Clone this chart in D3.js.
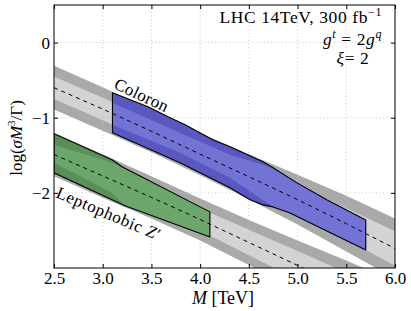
<!DOCTYPE html>
<html><head><meta charset="utf-8">
<script src="https://cdn.jsdelivr.net/npm/d3@7"></script>
<style>body{margin:0;background:#fff} text{font-family:"Liberation Serif","Times New Roman",serif;fill:#000}</style>
</head><body><svg id="c" width="411" height="311"></svg>
<script>
// ---- data ----
const massGrid = [2.5, 3.0, 3.5, 4.0, 4.5, 5.0, 5.5, 6.0];
const coloronCentral = [-0.60, -0.885, -1.18, -1.485, -1.785, -2.09, -2.41, -2.74];
const leptoCentral   = [-1.49, -1.775, -2.06, -2.355, -2.66, -2.965, -3.27, -3.58];
const grayOuterHalf  = [0.29, 0.29, 0.28, 0.28, 0.30, 0.33, 0.37, 0.40];
const grayInnerHalf  = [0.15, 0.15, 0.15, 0.15, 0.17, 0.19, 0.21, 0.23];

const coloronOuterTopM = [3.1, 3.465, 3.67, 3.845, 4.13, 4.306, 4.645, 4.748, 4.994, 5.30, 5.7];
const coloronOuterTop  = [-0.667, -0.853, -0.987, -1.093, -1.293, -1.387, -1.587, -1.667, -1.867, -2.093, -2.36];
const coloronOuterBotM = [3.1, 3.793, 4.306, 4.512, 4.645, 4.748, 4.922, 5.7];
const coloronOuterBot  = [-1.2, -1.6, -1.933, -2.093, -2.16, -2.187, -2.267, -2.76];
const coloronInnerTopM = [3.1, 3.793, 4.306, 4.748, 4.994, 5.30, 5.7];
const coloronInnerTop  = [-0.8, -1.2, -1.493, -1.667, -1.867, -2.093, -2.36];
const coloronInnerBotM = [3.1, 3.793, 4.306, 4.748, 4.922, 5.7];
const coloronInnerBot  = [-1.093, -1.467, -1.8, -2.187, -2.267, -2.76];

const leptoOuterTopM = [2.5, 3.095, 3.198, 4.1];
const leptoOuterTop  = [-1.213, -1.56, -1.653, -2.253];
const leptoOuterBotM = [2.5, 3.095, 3.229, 4.1];
const leptoOuterBot  = [-1.733, -2.093, -2.173, -2.587];
const leptoInnerTopM = [2.5, 3.095, 3.198, 4.1];
const leptoInnerTop  = [-1.36, -1.6, -1.653, -2.253];
const leptoInnerBotM = [2.5, 3.095, 3.229, 4.1];
const leptoInnerBot  = [-1.6, -2.0, -2.173, -2.587];

const xTicks = [2.5, 3.0, 3.5, 4.0, 4.5, 5.0, 5.5, 6.0];
const yTicks = [0, -1, -2];

// ---- layout ----
const svg = d3.select("#c");
const FONT = "Liberation Serif, Times New Roman, serif";
const L = 54, R = 395, T = 5, B = 268;
const x = d3.scaleLinear().domain([2.5, 6.0]).range([L, R]);
const y = d3.scaleLinear().domain([-3, 0.5]).range([B, T]);

svg.append("defs").append("clipPath").attr("id", "clip")
  .append("rect").attr("x", L).attr("y", T).attr("width", R - L).attr("height", B - T);
const plot = svg.append("g").attr("clip-path", "url(#clip)");

const zip = (ms, vs) => ms.map((m, i) => [m, vs[i]]);
const poly = (topM, top, botM, bot) => zip(topM, top).concat(zip(botM, bot).reverse());
const line = d3.line().x(d => x(d[0])).y(d => y(d[1]));
const area = d3.area().x(d => x(d[0])).y0(d => y(d[1])).y1(d => y(d[2]));

function grayBand(central, half, color) {
  const d = massGrid.map((m, i) => [m, central[i] - half[i], central[i] + half[i]]);
  plot.append("path").attr("d", area(d)).attr("fill", color).attr("stroke", "none");
}
grayBand(coloronCentral, grayOuterHalf, "#a9a9a9");
grayBand(coloronCentral, grayInnerHalf, "#d3d3d3");
grayBand(leptoCentral, grayOuterHalf, "#a9a9a9");
grayBand(leptoCentral, grayInnerHalf, "#d3d3d3");

// grid
const grid = plot.append("g").attr("stroke", "#bdbdbd").attr("stroke-width", 0.8).attr("stroke-dasharray", "1,2.5");
xTicks.forEach(t => grid.append("line").attr("x1", x(t)).attr("x2", x(t)).attr("y1", T).attr("y2", B));
yTicks.forEach(t => grid.append("line").attr("x1", L).attr("x2", R).attr("y1", y(t)).attr("y2", y(t)));

// signal regions
function region(outer, inner, dark, light) {
  plot.append("path").attr("d", line(outer) + "Z").attr("fill", dark).attr("stroke", "none");
  plot.append("path").attr("d", line(inner) + "Z").attr("fill", light).attr("stroke", "none");
  plot.append("path").attr("d", line(outer) + "Z").attr("fill", "none").attr("stroke", "#000").attr("stroke-width", 1.1).attr("stroke-linejoin", "round");
}
region(poly(coloronOuterTopM, coloronOuterTop, coloronOuterBotM, coloronOuterBot),
       poly(coloronInnerTopM, coloronInnerTop, coloronInnerBotM, coloronInnerBot), "#5858c0", "#7373d6");
region(poly(leptoOuterTopM, leptoOuterTop, leptoOuterBotM, leptoOuterBot),
       poly(leptoInnerTopM, leptoInnerTop, leptoInnerBotM, leptoInnerBot), "#5a8f5a", "#6da66d");

// central dashed lines
[coloronCentral, leptoCentral].forEach(c => {
  plot.append("path").attr("d", line(zip(massGrid, c))).attr("fill", "none")
    .attr("stroke", "#000").attr("stroke-width", 1).attr("stroke-dasharray", "4,4");
});

// frame
svg.append("rect").attr("x", L).attr("y", T).attr("width", R - L).attr("height", B - T)
  .attr("fill", "none").attr("stroke", "#000").attr("stroke-width", 1);

// axes with inward ticks
const ax = (g) => {
  g.attr("font-family", FONT).attr("font-size", 17);
  g.select(".domain").remove();
  g.selectAll("text").style("font-size", "17px").style("font-family", FONT).attr("fill", "#000");
};
svg.append("g").attr("transform", `translate(0,${B})`)
  .call(d3.axisBottom(x).tickValues(xTicks).tickFormat(d3.format(".1f")).tickSizeInner(-4).tickSizeOuter(0).tickPadding(4)).call(ax);
svg.append("g").attr("transform", `translate(0,${T})`)
  .call(d3.axisTop(x).tickValues(xTicks).tickFormat("").tickSizeInner(-4).tickSizeOuter(0)).call(ax);
svg.append("g").attr("transform", `translate(${L},0)`)
  .call(d3.axisLeft(y).tickValues(yTicks).tickFormat(d3.format("d")).tickSizeInner(-4).tickSizeOuter(0).tickPadding(4)).call(ax);
svg.append("g").attr("transform", `translate(${R},0)`)
  .call(d3.axisRight(y).tickValues(yTicks).tickFormat("").tickSizeInner(-4).tickSizeOuter(0)).call(ax);

// axis labels
const xl = svg.append("text").attr("x", 223).attr("y", 304).attr("text-anchor", "middle").style("font-size", "18px");
xl.append("tspan").attr("font-style", "italic").text("M");
xl.append("tspan").text(" [TeV]");

const yl = svg.append("text").attr("transform", "translate(22,138) rotate(-90)").attr("text-anchor", "middle").style("font-size", "17px");
yl.append("tspan").text("log(");
yl.append("tspan").attr("font-style", "italic").text("σM");
yl.append("tspan").attr("font-size", "11px").attr("dy", "-7").text("3");
yl.append("tspan").attr("dy", "7").text("/Γ)");

// annotations
const ann = (yy, xx, anchor) => svg.append("text").attr("x", xx).attr("y", yy).attr("text-anchor", anchor)
  .style("font-size", "17.5px").style("letter-spacing", "0.6px");
const a1 = ann(23, 382, "end");
a1.append("tspan").text("LHC 14TeV, 300 fb");
a1.append("tspan").attr("font-size", "12px").attr("dy", "-7").text("−1");
const a2 = ann(45, 382, "end");
a2.append("tspan").attr("font-style", "italic").text("g");
a2.append("tspan").attr("font-size", "12px").attr("font-style", "italic").attr("dy", "-7").text("t");
a2.append("tspan").attr("dy", "7").text(" = 2");
a2.append("tspan").attr("font-style", "italic").text("g");
a2.append("tspan").attr("font-size", "12px").attr("font-style", "italic").attr("dy", "-7").text("q");
const a3 = ann(64, 353, "middle");
a3.append("tspan").attr("font-style", "italic").text("ξ");
a3.append("tspan").text("= 2");

svg.append("text").attr("transform", "translate(113,88) rotate(25)").style("font-size", "17px").style("letter-spacing", "0.3px").text("Coloron");
const lz = svg.append("text").attr("transform", "translate(55,197) rotate(23)").style("font-size", "17px").style("letter-spacing", "0.6px");
lz.append("tspan").text("Leptophobic ");
lz.append("tspan").attr("font-style", "italic").text("Z");
lz.append("tspan").text("′");
</script></body></html>
